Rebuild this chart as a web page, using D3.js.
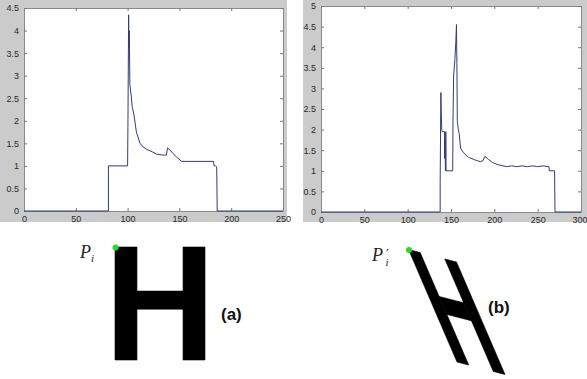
<!DOCTYPE html>
<html>
<head>
<meta charset="utf-8">
<script src="https://cdn.jsdelivr.net/npm/d3@7"></script>
<style>
html,body{margin:0;padding:0;background:#fff;}
svg{display:block;}
</style>
</head>
<body>
<svg id="fig" width="587" height="379"></svg>
<script>
// ---- Data ----
const leftX = [0, 81.5, 81.5, 100, 100.3, 101, 101.3, 101.6, 102.2, 103.5, 104.5, 106, 108.5, 112, 115, 118, 124, 128, 134, 137.5, 138.5, 141, 144, 148, 152, 183, 183.5, 185, 186, 186.5, 250];
const leftY = [0, 0, 1, 1, 1.85, 4.35, 3.6, 4.0, 2.8, 2.55, 2.3, 2.15, 1.75, 1.5, 1.42, 1.37, 1.31, 1.26, 1.24, 1.24, 1.4, 1.35, 1.27, 1.18, 1.1, 1.1, 1.0, 1.0, 0.98, 0, 0];

const rightX = [0, 137.5, 137.5, 138.3, 138.8, 139.3, 139.8, 142.5, 142.7, 143.1, 143.6, 144, 144.3, 152, 152.3, 153, 154.5, 155.5, 156.3, 156.8, 157.3, 158.5, 159.5, 161, 164, 170, 177, 184, 187, 189, 193, 198, 204, 210, 215, 220, 226, 232, 238, 244, 250, 256, 263, 263.5, 269.5, 270, 300];
const rightY = [0, 0, 0.7, 2.9, 2.4, 2.0, 1.95, 1.95, 1.3, 1.75, 1.0, 1.95, 1.0, 1.0, 2.2, 3.3, 3.7, 4.1, 4.55, 3.6, 2.2, 2.0, 1.9, 1.55, 1.45, 1.33, 1.27, 1.22, 1.25, 1.35, 1.28, 1.2, 1.15, 1.12, 1.1, 1.12, 1.1, 1.12, 1.1, 1.12, 1.1, 1.12, 1.1, 1.0, 1.0, 0, 0];

const leftXTicks = [0, 50, 100, 150, 200, 250];
const leftYTicks = [0, 0.5, 1, 1.5, 2, 2.5, 3, 3.5, 4, 4.5];
const rightXTicks = [0, 50, 100, 150, 200, 250, 300];
const rightYTicks = [0, 0.5, 1, 1.5, 2, 2.5, 3, 3.5, 4, 4.5, 5];

// H letter shape in unit coordinates (u across, v down)
const hStemW = 0.244;
const hBarTop = 0.39, hBarBot = 0.55;

const svg = d3.select("#fig");

function panel(cfg) {
  const g = svg.append("g");
  g.append("rect").attr("x", cfg.bg[0]).attr("y", cfg.bg[1]).attr("width", cfg.bg[2]).attr("height", cfg.bg[3]).attr("fill", "#cbcbcb");
  const x = d3.scaleLinear().domain(cfg.xd).range([cfg.l, cfg.r]);
  const y = d3.scaleLinear().domain(cfg.yd).range([cfg.b, cfg.t]);
  g.append("rect").attr("x", cfg.l).attr("y", cfg.t).attr("width", cfg.r - cfg.l).attr("height", cfg.b - cfg.t).attr("fill", "#fff");

  const fontStyle = sel => sel.selectAll("text").attr("font-family", "Liberation Sans, Arial, sans-serif").attr("font-size", 9).attr("fill", "#2a2a2a");
  const ax = g.append("g").attr("transform", `translate(0,${cfg.b})`)
    .call(d3.axisBottom(x).tickValues(cfg.xt).tickSizeInner(-3).tickSizeOuter(0).tickPadding(6).tickFormat(d3.format("")));
  const axT = g.append("g").attr("transform", `translate(0,${cfg.t})`)
    .call(d3.axisTop(x).tickValues(cfg.xt).tickSizeInner(-3).tickSizeOuter(0).tickFormat(""));
  const ay = g.append("g").attr("transform", `translate(${cfg.l},0)`)
    .call(d3.axisLeft(y).tickValues(cfg.yt).tickSizeInner(-3).tickSizeOuter(0).tickPadding(5).tickFormat(d3.format("")));
  const ayR = g.append("g").attr("transform", `translate(${cfg.r},0)`)
    .call(d3.axisRight(y).tickValues(cfg.yt).tickSizeInner(-3).tickSizeOuter(0).tickFormat(""));
  [ax, axT, ay, ayR].forEach(a => {
    a.select(".domain").attr("stroke", "#8a8a8a");
    a.selectAll(".tick line").attr("stroke", "#777");
    a.call(fontStyle);
  });
  ax.selectAll("text").attr("dy", "0.5em");
  if (cfg.lastShift) {
    ax.selectAll(".tick").filter(d => d === cfg.xd[1]).select("text").attr("dx", cfg.lastShift);
  }

  const line = d3.line().x((d, i) => x(cfg.xs[i])).y(d => y(d));
  g.append("path").datum(cfg.ys).attr("d", line).attr("fill", "none").attr("stroke", "#363a78").attr("stroke-width", 1);
  return g;
}

panel({bg: [0, 0, 287, 222], l: 24, r: 283, t: 8, b: 211, xd: [0, 250], yd: [0, 4.5], xt: leftXTicks, yt: leftYTicks, xs: leftX, ys: leftY});
panel({bg: [303, 0, 284, 222], l: 321, r: 581, t: 6, b: 212, xd: [0, 300], yd: [0, 5], xt: rightXTicks, yt: rightYTicks, xs: rightX, ys: rightY, lastShift: -1.5});

// ---- H letters ----
function hPolys() {
  return [
    [[0,0],[hStemW,0],[hStemW,1],[0,1]],
    [[1-hStemW,0],[1,0],[1,1],[1-hStemW,1]],
    [[hStemW,hBarTop],[1-hStemW,hBarTop],[1-hStemW,hBarBot],[hStemW,hBarBot]]
  ];
}
function drawH(origin, uVec, vVec) {
  const map = ([u, v]) => [origin[0] + u*uVec[0] + v*vVec[0], origin[1] + u*uVec[1] + v*vVec[1]];
  hPolys().forEach(p => {
    svg.append("polygon").attr("points", p.map(map).map(q => q.join(",")).join(" "))
      .attr("fill", "#000").attr("stroke", "#000").attr("stroke-width", 0.6).attr("stroke-linejoin", "round");
  });
  const dot = map([0, 0]);
  svg.append("circle").attr("cx", dot[0] + 0.5).attr("cy", dot[1] + 0.5).attr("r", 3).attr("fill", "#22dd22");
}
drawH([115, 247], [90, 0], [0, 113]);
drawH([408.5, 249.5], [48, 12.5], [48.5, 112.5]);

// labels
const serif = "Liberation Serif, DejaVu Serif, serif";
const t1 = svg.append("text").attr("x", 80).attr("y", 258).attr("font-family", serif).attr("font-style", "italic").attr("font-size", 18).attr("fill", "#222");
t1.append("tspan").text("P");
t1.append("tspan").attr("font-size", 11).attr("dy", 4).text("i");

const t2 = svg.append("text").attr("x", 372).attr("y", 261).attr("font-family", serif).attr("font-style", "italic").attr("font-size", 18).attr("fill", "#222");
t2.append("tspan").text("P");
t2.append("tspan").attr("x", 386).attr("dy", -3).attr("font-family", "DejaVu Sans, sans-serif").attr("font-style", "normal").attr("font-size", 13).text("\u2032");
t2.append("tspan").attr("x", 385.5).attr("dy", 8).attr("font-size", 11).text("i");

svg.append("text").attr("x", 221).attr("y", 320).attr("font-family", "Liberation Sans, Arial, sans-serif").attr("font-weight", "bold").attr("font-size", 17).attr("fill", "#111").text("(a)");
svg.append("text").attr("x", 488).attr("y", 313).attr("font-family", "Liberation Sans, Arial, sans-serif").attr("font-weight", "bold").attr("font-size", 17).attr("fill", "#111").text("(b)");
</script>
</body>
</html>
